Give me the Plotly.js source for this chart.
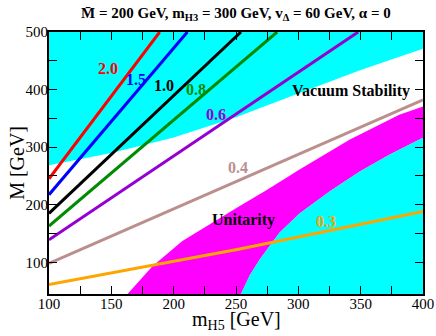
<!DOCTYPE html>
<html>
<head>
<meta charset="utf-8">
<script src="https://cdn.plot.ly/plotly-3.0.1.min.js"></script>
<style>html,body{margin:0;padding:0;background:#fff;}#chart{width:436px;height:336px;}</style>
</head>
<body>
<div id="chart"></div>
<script>
// Axis ranges
const xRange = [100, 400];
const yRange = [45, 500];
const xTicks = [100, 125, 150, 175, 200, 225, 250, 275, 300, 325, 350, 375, 400];
const xTickText = ["100", " ", "150", " ", "200", " ", "250", " ", "300", " ", "350", " ", "400"];
const yTicks = [100, 150, 200, 250, 300, 350, 400, 450, 500];
const yTickText = ["100", " ", "200", " ", "300", " ", "400", " ", "500"];

// Contour lines (label, m_H5 values, M values)
const labels = ["2.0", "1.5", "1.0", "0.8", "0.6", "0.4", "0.3"];
const line_m = [
  [100, 188.8],
  [100, 211],
  [100, 254],
  [100, 283],
  [100, 348],
  [100, 400],
  [100, 253, 400]
];
const line_M = [
  [245, 500],
  [217.5, 500],
  [185, 500],
  [163, 500],
  [139, 500],
  [98, 382],
  [61.5, 123, 188.5]
];
// Label positions (m_H5, M)
const label_m = [147, 170, 192, 218, 234, 252, 322];
const label_M = [436, 418, 407, 400, 356, 264, 171];

// Vacuum stability boundary (cyan above)
const vac_m = [100, 150, 200, 250, 300, 350, 400];
const vac_M = [268.5, 290, 317, 352, 393, 434, 471];

// Unitarity band: upper (white side) and lower (cyan side) boundaries
const uniUp_m = [163, 183, 207, 230, 253, 275, 301, 341, 381, 400];
const uniUp_M = [45, 93, 137, 168, 198, 226, 261, 313, 356.5, 370.5];
const uniLo_m = [254, 261, 269, 285, 301, 325, 349, 373, 400];
const uniLo_M = [45, 77, 105, 152, 185, 223, 257.5, 287, 316.5];

const colors = ["#ff0000", "#0000ff", "#000000", "#008b00", "#9400d3", "#bc8f8f", "#ffa500"];
const CYAN = "#00ffff", MAGENTA = "#ff00ff";

const traces = [];
// Upper cyan region
traces.push({
  x: vac_m.concat([xRange[1], xRange[0]]),
  y: vac_M.concat([yRange[1], yRange[1]]),
  mode: "lines", fill: "toself", fillcolor: CYAN, line: {width: 0, color: CYAN},
  hoverinfo: "skip", showlegend: false
});
// Magenta band
traces.push({
  x: uniUp_m.concat(uniLo_m.slice().reverse()),
  y: uniUp_M.concat(uniLo_M.slice().reverse()),
  mode: "lines", fill: "toself", fillcolor: MAGENTA, line: {width: 0, color: MAGENTA},
  hoverinfo: "skip", showlegend: false
});
// Lower-right cyan region
traces.push({
  x: uniLo_m.concat([xRange[1]]),
  y: uniLo_M.concat([yRange[0]]),
  mode: "lines", fill: "toself", fillcolor: CYAN, line: {width: 0, color: CYAN},
  hoverinfo: "skip", showlegend: false
});
// Contour lines
for (let i = 0; i < labels.length; i++) {
  traces.push({
    x: line_m[i], y: line_M[i], mode: "lines",
    line: {color: colors[i], width: 3}, hoverinfo: "skip", showlegend: false
  });
}

const font = "Liberation Serif";
const annotations = labels.map((t, i) => ({
  x: label_m[i], y: label_M[i], text: "<b>" + t + "</b>", showarrow: false,
  font: {family: font, size: 16, color: colors[i]}
}));
annotations.push({x: 342.5, y: 397, text: "<b>Vacuum Stability</b>", showarrow: false,
  font: {family: font, size: 16, color: "#000"}});
annotations.push({x: 256, y: 173, text: "<b>Unitarity</b>", showarrow: false,
  font: {family: font, size: 16, color: "#000"}});
// Axis titles
annotations.push({xref: "paper", yref: "paper", x: 0.5, y: -0.046, xanchor: "center", yanchor: "top",
  text: "m<sub>H5</sub> [GeV]", showarrow: false, font: {family: font, size: 20, color: "#000"}});
annotations.push({xref: "paper", yref: "paper", x: -0.086, y: 0.5, xanchor: "center", yanchor: "middle",
  textangle: -90, text: "M [GeV]", showarrow: false, font: {family: font, size: 20, color: "#000"}});

const axisCommon = {
  showgrid: false, zeroline: false, showline: true, linecolor: "#000", linewidth: 2,
  mirror: "allticks", ticks: "inside", ticklen: 8, tickwidth: 1, tickcolor: "#000",
  tickfont: {family: font, size: 15, color: "#000"}, tickmode: "array", automargin: false
};

const layout = {
  width: 436, height: 336,
  margin: {l: 49, r: 13, t: 32, b: 41.5},
  paper_bgcolor: "#fff", plot_bgcolor: "#fff",
  title: {text: "<b>M\u0304 = 200 GeV, m<sub>H3</sub> = 300 GeV, v<sub>\u0394</sub> = 60 GeV, \u03b1 = 0</b>",
    font: {family: font, size: 15, color: "#000"}, x: 0.541, xanchor: "center", y: 0.962, yanchor: "middle"},
  xaxis: Object.assign({}, axisCommon, {range: xRange, tickvals: xTicks, ticktext: xTickText,
    ticklabelstandoff: -5}),
  yaxis: Object.assign({}, axisCommon, {range: yRange, tickvals: yTicks, ticktext: yTickText,
    ticklabelstandoff: -4}),
  annotations: annotations
};

Plotly.newPlot("chart", traces, layout, {displayModeBar: false, staticPlot: true});
</script>
</body>
</html>
